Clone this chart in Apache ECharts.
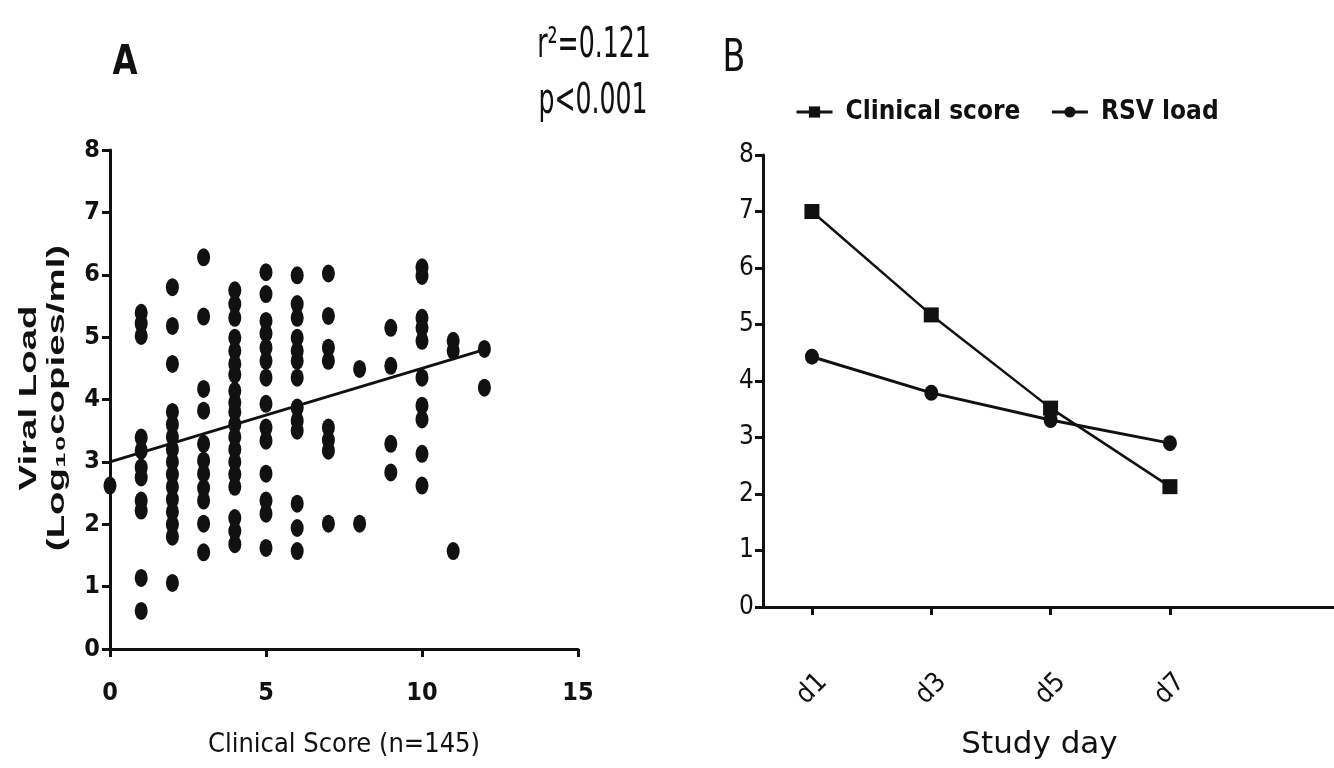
<!DOCTYPE html>
<html>
<head>
<meta charset="utf-8">
<title>Viral load vs clinical score</title>
<script src="https://cdn.jsdelivr.net/npm/echarts@6/dist/echarts.min.js"></script>
<style>
  html, body { margin: 0; padding: 0; background: #fff; }
  #chart { width: 1334px; height: 768px; }
</style>
</head>
<body>
<div id="chart"></div>
<script>
// panel A: viral load readings for each clinical score (index = score)
const clinicalScores = [0, 1, 2, 3, 4, 5, 6, 7, 8, 9, 10, 11, 12];
const viralLoadByScore = [
  [2.62],
  [5.39, 5.22, 5.02, 3.39, 3.18, 2.91, 2.75, 2.38, 2.22, 1.14, 0.61],
  [5.8, 5.18, 4.57, 3.8, 3.6, 3.4, 3.2, 3.0, 2.8, 2.6, 2.4, 2.2, 2.0, 1.8, 1.06],
  [6.28, 5.33, 4.17, 3.82, 3.29, 3.02, 2.81, 2.58, 2.38, 2.01, 1.55],
  [5.75, 5.53, 5.31, 4.99, 4.78, 4.57, 4.4, 4.14, 3.95, 3.8, 3.6, 3.4, 3.2, 3.0, 2.8, 2.6, 2.1, 1.89, 1.68],
  [6.04, 5.69, 5.26, 5.06, 4.83, 4.62, 4.35, 3.93, 3.55, 3.34, 2.81, 2.38, 2.17, 1.62],
  [5.99, 5.53, 5.31, 4.99, 4.78, 4.62, 4.35, 3.87, 3.66, 3.5, 2.33, 1.94, 1.57],
  [6.02, 5.34, 4.83, 4.62, 3.55, 3.35, 3.18, 2.01],
  [4.49, 2.01],
  [5.15, 4.54, 3.29, 2.83],
  [6.12, 5.98, 5.31, 5.15, 4.94, 4.35, 3.9, 3.68, 3.13, 2.62],
  [4.94, 4.78, 1.57],
  [4.81, 4.19]
];
const fitScores = [0, 12];
const fitLoads = [3.0, 4.8];
const scoreTicks = [0, 5, 10, 15];

// panel B: means by study day
const studyDays = [1, 3, 5, 7];
const clinicalScoreMean = [7.0, 5.17, 3.52, 2.13];
const rsvLoadMean = [4.43, 3.79, 3.31, 2.9];

const NARROW = '"Liberation Sans Narrow","Arial Narrow","DejaVu Sans Condensed",sans-serif';
const INK = '#111';

var scatterData = [];
clinicalScores.forEach(function (s) {
  viralLoadByScore[s].forEach(function (v) { scatterData.push([s, v]); });
});

var chart = echarts.init(document.getElementById('chart'), null, { renderer: 'canvas' });

var axisLineStyle = { show: true, lineStyle: { color: INK, width: 3 } };
var tickStyle = { show: true, inside: false, length: 8, lineStyle: { color: INK, width: 3 } };

// the scanned figure has tall, narrow lettering, so free text is stretched a little
function label(text, x, y, size, weight, sy) {
  return {
    type: 'text', x: x, y: y, scaleY: sy, z: 10,
    style: {
      text: text, fill: INK, fontFamily: NARROW, fontSize: size, fontWeight: weight,
      align: 'center', verticalAlign: 'middle'
    }
  };
}

var option = {
  backgroundColor: '#fff',
  animation: false,
  graphic: [
    label('A', 125, 63, 36, 'bold', 1.15),
    label('B', 734, 59, 37, 'normal', 1.2),
    label('r²=0.121', 594, 46, 28, 'normal', 1.5),
    label('p<0.001', 593, 102, 28, 'normal', 1.5),
    {
      type: 'text', x: 43, y: 398, rotation: Math.PI / 2, scaleX: 1.6, z: 10,
      style: {
        text: 'Viral Load\n(Log₁₀copies/ml)', fill: INK,
        fontFamily: '"Liberation Sans", Arial, sans-serif', fontSize: 24, fontWeight: 'bold',
        lineHeight: 28, align: 'center', verticalAlign: 'middle'
      }
    }
  ],
  legend: {
    data: ['Clinical score', 'RSV load'],
    left: 795,
    top: 99,
    padding: 0,
    itemWidth: 36,
    itemHeight: 14,
    itemGap: 30,
    lineStyle: { width: 3 },
    textStyle: { fontFamily: NARROW, fontSize: 26, fontWeight: 'bold', color: INK, padding: [0, 0, 0, 8] }
  },
  grid: [
    { left: 110, top: 150, width: 468, height: 499 },
    { left: 763, top: 155, right: 0, height: 452 }
  ],
  xAxis: [
    {
      gridIndex: 0, type: 'value', min: 0, max: 15, interval: 5,
      axisLine: axisLineStyle, axisTick: tickStyle, splitLine: { show: false },
      axisLabel: { margin: 32, fontFamily: NARROW, fontSize: 25, fontWeight: 'bold', color: INK,
        customValues: scoreTicks },
      name: 'Clinical Score (n=145)', nameLocation: 'middle', nameGap: 82,
      nameTextStyle: { fontFamily: NARROW, fontSize: 27, color: INK }
    },
    {
      gridIndex: 1, type: 'value', min: 0.18, max: 9.75,
      axisLine: axisLineStyle,
      axisTick: { show: true, length: 8, lineStyle: { color: INK, width: 3 }, customValues: studyDays },
      splitLine: { show: false },
      axisLabel: {
        customValues: studyDays, rotate: 45, align: 'center', verticalAlign: 'middle', margin: 82,
        fontFamily: NARROW, fontSize: 27, color: INK,
        formatter: function (v) { return 'd' + v; }
      },
      name: 'Study day', nameLocation: 'middle', nameGap: 122,
      nameTextStyle: { fontFamily: '"DejaVu Sans", sans-serif', fontSize: 31, color: INK, padding: [0, 18, 0, 0] }
    }
  ],
  yAxis: [
    {
      gridIndex: 0, type: 'value', min: 0, max: 8, interval: 1,
      axisLine: axisLineStyle, axisTick: tickStyle, splitLine: { show: false },
      axisLabel: { margin: 10, fontFamily: NARROW, fontSize: 25, fontWeight: 'bold', color: INK }
    },
    {
      gridIndex: 1, type: 'value', min: 0, max: 8, interval: 1,
      axisLine: axisLineStyle, axisTick: tickStyle, splitLine: { show: false },
      axisLabel: { margin: 9, fontFamily: NARROW, fontSize: 26, color: INK }
    }
  ],
  series: [
    {
      name: 'Viral load', type: 'scatter', xAxisIndex: 0, yAxisIndex: 0,
      symbol: 'circle', symbolSize: [13, 18],
      itemStyle: { color: INK, opacity: 1 },
      data: scatterData
    },
    {
      name: 'Fit', type: 'line', xAxisIndex: 0, yAxisIndex: 0,
      symbol: 'none', lineStyle: { color: INK, width: 3 },
      data: fitScores.map(function (s, i) { return [s, fitLoads[i]]; })
    },
    {
      name: 'Clinical score', type: 'line', xAxisIndex: 1, yAxisIndex: 1,
      symbol: 'rect', symbolSize: 15,
      itemStyle: { color: INK },
      lineStyle: { color: INK, width: 2.5 },
      data: studyDays.map(function (d, i) { return [d, clinicalScoreMean[i]]; })
    },
    {
      name: 'RSV load', type: 'line', xAxisIndex: 1, yAxisIndex: 1,
      symbol: 'circle', symbolSize: [14, 16],
      itemStyle: { color: INK },
      lineStyle: { color: INK, width: 3 },
      data: studyDays.map(function (d, i) { return [d, rsvLoadMean[i]]; })
    }
  ]
};

chart.setOption(option);
</script>
</body>
</html>
